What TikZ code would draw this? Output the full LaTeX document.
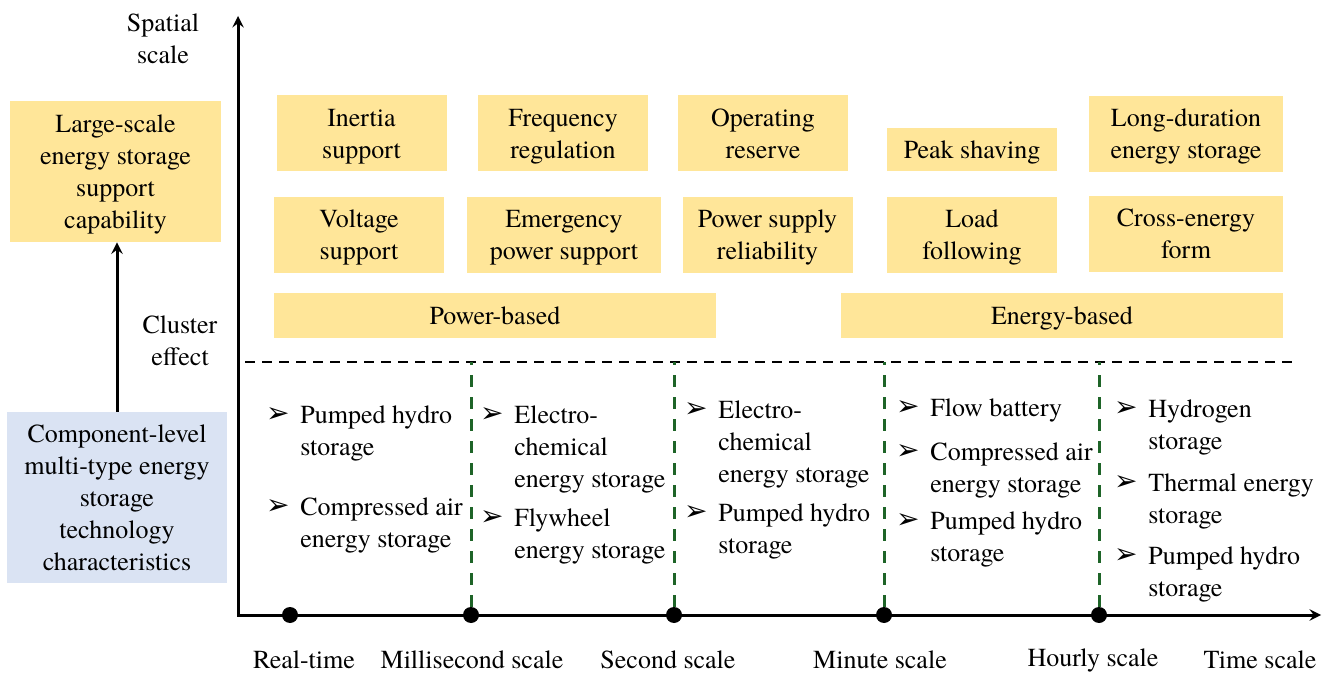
\documentclass[tikz,border=0pt]{standalone}
\usepackage{fontspec}
\setmainfont{texgyretermes-regular.otf}
\newfontfamily\serifnode{texgyretermes-regular.otf}
\newfontfamily\arrowglyph{DejaVu Sans}
\usepackage{tikz}
\usetikzlibrary{arrows, shapes.geometric}
\definecolor{boxyellow}{RGB}{255,230,153}
\definecolor{boxblue}{RGB}{218,227,243}
\definecolor{gridgreen}{RGB}{30,100,40}
\newcommand{\bul}{{\arrowglyph\fontsize{14}{14}\selectfont ➢}}
\tikzstyle{role} = [rectangle, minimum width=85pt, minimum height=38pt, inner sep=0pt, text centered, align=center, fill=boxyellow, text depth=-0.5pt]
\tikzstyle{wide} = [role, minimum width=97pt]
\tikzstyle{band} = [role, minimum width=221pt, minimum height=22.5pt]
\tikzstyle{tech} = [role, fill=boxblue, minimum width=110pt, minimum height=85.5pt]
\tikzstyle{item} = [anchor=north west, align=left, inner sep=0pt, label={[anchor=north east, inner sep=0pt, xshift=-5pt, yshift=-1pt]north west:\bul}]
\tikzstyle{dot} = [circle, fill=black, inner sep=0pt, minimum size=8pt]
\tikzstyle{axis} = [line width=1.5pt, <->, >=stealth]
\tikzstyle{arrow} = [line width=1.5pt, ->, >=stealth]
\tikzstyle{gline} = [line width=1.5pt, draw=gridgreen, dash pattern=on 6pt off 5pt]
\tikzstyle{hline} = [line width=1pt, dash pattern=on 5pt off 3.5pt]

\begin{document}
\begin{tikzpicture}[x=0.5pt, y=-0.5pt, every node/.style={font=\serifnode\fontsize{13}{16}\selectfont}]
    \useasboundingbox (0,0) rectangle (1333,673);

    % left side
    \node (cap) [role, minimum width=105.5pt, minimum height=70.5pt] at (115.5,171.5) {Large-scale\\energy storage\\support\\capability};
    \node (comp) [tech] at (117,497.5) {Component-level\\multi-type energy\\storage\\technology\\characteristics};
    \draw [arrow] (comp.north) -- (comp.north |- cap.south);
    \node (clu) [align=center] at (180,341) {Cluster\\effect};
    \node (spa) [align=center] at (163,39) {Spatial\\scale};

    % axes
    \coordinate (o) at (238,615);
    \coordinate (ytop) at (238,16);
    \coordinate (xend) at (1321,615);
    \draw [axis] (ytop) -- (o) -- (xend);
    \coordinate (dl) at (245,362);
    \coordinate (dr) at (1297,362);
    \draw [hline] (dl) -- (dr);

    \node (rt) [dot] at (290,615) {};
    \node (ms) [dot] at (471,615) {};
    \node (sec) [dot] at (674,615) {};
    \node (min) [dot] at (884,615) {};
    \node (hr) [dot] at (1099,615) {};
    \draw [gline] (ms) -- (ms |- dl);
    \draw [gline] (sec) -- (sec |- dl);
    \draw [gline] (min) -- (min |- dl);
    \draw [gline] (hr) -- (hr |- dl);

    \node (lrt) at (304,660) {Real-time};
    \node (lms) at (472,660) {Millisecond scale};
    \node (lsec) at (668,660) {Second scale};
    \node (lmin) at (880,660) {Minute scale};
    \node (lhr) at (1093,660) {Hourly scale};
    \node (ltime) at (1260,660) {Time scale};

    % application boxes
    \node (iner) [role] at (361.5,133.5) {Inertia\\support};
    \node (freq) [role] at (563,133.5) {Frequency\\regulation};
    \node (oper) [role] at (763,133.5) {Operating\\reserve};
    \node (peak) [role, minimum height=21.5pt] at (972,149.5) {Peak shaving};
    \node (long) [wide] at (1186,134) {Long-duration\\energy storage};
    \node (volt) [role] at (359,235) {Voltage\\support};
    \node (emer) [wide] at (564,235) {Emergency\\power support};
    \node (reli) [role] at (767.5,235) {Power supply\\reliability};
    \node (load) [role] at (972,235) {Load\\following};
    \node (cros) [wide] at (1186,234) {Cross-energy\\form};
    \node (pow) [band] at (495,315.5) {Power-based};
    \node (ene) [band] at (1062,315.5) {Energy-based};

    % technologies per time scale
    \node (a1) [item] at (300,405) {Pumped hydro\\storage};
    \node (a2) [item] at (300,497) {Compressed air\\energy storage};
    \node (b1) [item] at (514,405) {Electro-\\chemical\\energy storage};
    \node (b2) [item] at (514,508) {Flywheel\\energy storage};
    \node (c1) [item] at (718,400) {Electro-\\chemical\\energy storage};
    \node (c2) [item] at (718,503) {Pumped hydro\\storage};
    \node (d1) [item] at (930,398) {Flow battery};
    \node (d2) [item] at (930,442) {Compressed air\\energy storage};
    \node (d3) [item] at (930,511) {Pumped hydro\\storage};
    \node (e1) [item] at (1148,399) {Hydrogen\\storage};
    \node (e2) [item] at (1148,473) {Thermal energy\\storage};
    \node (e3) [item] at (1148,546) {Pumped hydro\\storage};
\end{tikzpicture}
\end{document}
